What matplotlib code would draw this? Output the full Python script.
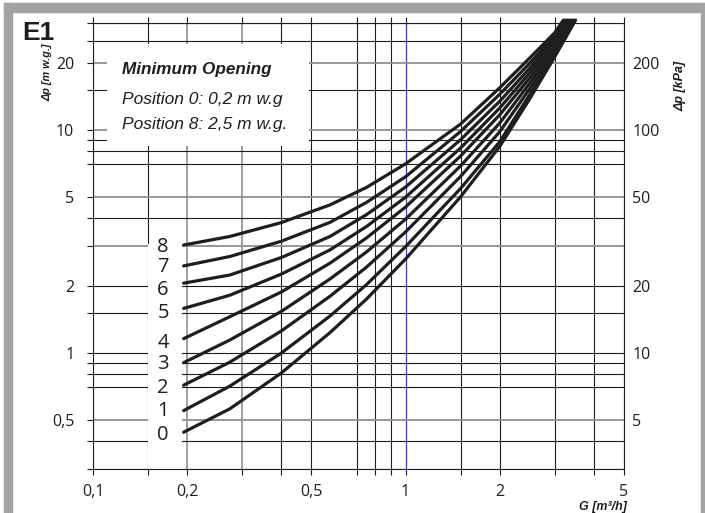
import matplotlib.pyplot as plt
from matplotlib.patches import Rectangle
from matplotlib.ticker import NullLocator

# Werte (G in m3/h, dp in m w.g.)
positions = ['0', '1', '2', '3', '4', '5', '6', '7', '8']
g_read = [0.195, 0.274, 0.4, 0.573, 0.75, 1.0, 1.5, 2.0, 2.5, 3.0]
g_end = [3.50, 3.46, 3.42, 3.38, 3.35, 3.31, 3.27, 3.24, 3.20]
dp_end = 31.0

dp_0 = [0.44, 0.56, 0.81, 1.23, 1.74, 2.63, 5.0, 8.4, 13.8, 21.2]
dp_1 = [0.55, 0.708, 0.995, 1.46, 2.02, 2.99, 5.45, 8.82, 14.4, 21.9]
dp_2 = [0.715, 0.907, 1.25, 1.79, 2.42, 3.48, 6.17, 9.78, 15.3, 22.6]
dp_3 = [0.902, 1.14, 1.53, 2.14, 2.83, 3.97, 6.88, 10.7, 16.2, 23.3]
dp_4 = [1.156, 1.45, 1.87, 2.52, 3.27, 4.50, 7.62, 11.65, 17.1, 24.0]
dp_5 = [1.58, 1.81, 2.25, 2.89, 3.68, 4.98, 8.28, 12.5, 18.0, 24.8]
dp_6 = [2.05, 2.23, 2.67, 3.32, 4.16, 5.53, 9.02, 13.4, 18.9, 25.6]
dp_7 = [2.45, 2.70, 3.16, 3.84, 4.72, 6.15, 9.82, 14.4, 19.9, 26.4]
dp_8 = [3.04, 3.32, 3.83, 4.60, 5.51, 7.03, 10.6, 15.4, 21.0, 27.2]
curves = [dp_0, dp_1, dp_2, dp_3, dp_4, dp_5, dp_6, dp_7, dp_8]
# Lage der Kurvennummern
label_g = 0.1675
label_dp = [0.429, 0.55, 0.698, 0.886, 1.11, 1.50, 1.91, 2.42, 2.98]

grid_x = [0.1, 0.15, 0.2, 0.3, 0.4, 0.5, 0.7, 0.8, 0.9, 1, 1.5, 2, 3, 4, 5]
grid_y = [0.3, 0.4, 0.5, 0.7, 0.8, 0.9, 1, 1.5, 2, 3, 4, 5, 7, 8, 9, 10, 15, 20, 25, 30]
xlabels = {0.1: '0,1', 0.2: '0,2', 0.5: '0,5', 1: '1', 2: '2', 5: '5'}
ylabels = {0.5: '0,5', 1: '1', 2: '2', 5: '5', 10: '10', 20: '20'}
kpa_labels = {0.5: '5', 1: '10', 2: '20', 5: '50', 10: '100', 20: '200'}
gray_x = [0.2, 0.3]
gray_y = [0.5, 3, 5, 10, 20]

plt.rcParams['font.family'] = ['Open Sans', 'DejaVu Sans']
narrow = ['Liberation Sans Narrow', 'Liberation Sans', 'DejaVu Sans']
ink = '#1e1e1e'

fig = plt.figure(figsize=(7.05, 5.13), dpi=100)
ax = fig.add_axes([93 / 705, 1 - 469.3 / 513, 531 / 705, 446 / 513])
ax.set_xscale('log')
ax.set_yscale('log')
ax.set_xlim(0.1, 5)
ax.set_ylim(0.3, 30)

# Gitter
for gx in grid_x:
    if gx == 1:
        ax.axvline(gx, color='#3b3bb5', lw=0.9, zorder=1)
    elif gx in gray_x:
        ax.axvline(gx, color='#8f8f8f', lw=1.2, zorder=1)
    else:
        ax.axvline(gx, color=ink, lw=0.8, zorder=1)
for gy in grid_y:
    if gy in gray_y:
        ax.axhline(gy, color='#8f8f8f', lw=1.3, zorder=1)
    else:
        ax.axhline(gy, color=ink, lw=0.8, zorder=1)

ax.set_xticks(grid_x, labels=[xlabels.get(v, '') for v in grid_x])
ax.set_yticks(grid_y, labels=[ylabels.get(v, '') for v in grid_y])
ax.xaxis.set_minor_locator(NullLocator())
ax.yaxis.set_minor_locator(NullLocator())
ax.tick_params(axis='both', direction='out', length=4.5, width=0.8, color=ink,
               top=True, right=True, labelsize=11.5, labelcolor=ink)
ax.tick_params(axis='x', pad=6)
ax.tick_params(axis='y', pad=9)
for sp in ax.spines.values():
    sp.set_color(ink)
    sp.set_linewidth(0.8)

# rechte Achse in kPa
ax2 = ax.twinx()
ax2.set_yscale('log')
ax2.set_ylim(0.3, 30)
ax2.set_yticks(list(kpa_labels.keys()), labels=list(kpa_labels.values()))
ax2.yaxis.set_minor_locator(NullLocator())
ax2.tick_params(axis='y', length=0, pad=6, labelsize=11.5, labelcolor=ink)
for sp in ax2.spines.values():
    sp.set_visible(False)

# weisse Flaechen (Textkasten, Kurvennummern)
ax.add_patch(Rectangle((0.0264, 0.725), 0.3804, 0.2286, transform=ax.transAxes,
                       facecolor='white', edgecolor='none', zorder=2))
ax.add_patch(Rectangle((0.1045, 0.0), 0.0631, 0.505, transform=ax.transAxes,
                       facecolor='white', edgecolor='none', zorder=2))

# Kurven
for i, dp in enumerate(curves):
    ax.plot(g_read + [g_end[i]], dp + [dp_end], color=ink, lw=2.3,
            solid_capstyle='round', solid_joinstyle='round', zorder=3, clip_on=False)
    ax.text(label_g, label_dp[i], positions[i], ha='center', va='center',
            fontsize=14.5, color=ink, zorder=4)

ax.text(0.055, 0.897, 'Minimum Opening', transform=ax.transAxes, family=narrow,
        fontsize=12.3, fontweight='bold', style='italic', color=ink, va='center', zorder=4)
ax.text(0.055, 0.83, 'Position 0: 0,2 m w.g', transform=ax.transAxes, family=narrow,
        fontsize=12.5, style='italic', color=ink, va='center', zorder=4)
ax.text(0.055, 0.774, 'Position 8: 2,5 m w.g.', transform=ax.transAxes, family=narrow,
        fontsize=12.5, style='italic', color=ink, va='center', zorder=4)

fig.text(47 / 705, 1 - 72 / 513, '\u0394p [m w.g.]', rotation=90, family=narrow,
         fontsize=7.8, fontweight='bold', style='italic', ha='center', va='center', color=ink)
fig.text(680 / 705, 1 - 86 / 513, '\u0394p [kPa]', rotation=90, family=narrow,
         fontsize=9, fontweight='bold', style='italic', ha='center', va='center', color=ink)
fig.text(627 / 705, 1 - 507 / 513, 'G [m\u00b3/h]', family=narrow,
         fontsize=9, fontweight='bold', style='italic', ha='right', va='center', color=ink)
fig.text(22 / 705, 1 - 33 / 513, 'E1', family=['Liberation Sans', 'DejaVu Sans'],
         fontsize=19, fontweight='bold', ha='left', va='center', color=ink)

# grauer Rahmen
frame = '#a3a3a3'
fig.add_artist(Rectangle((4 / 705, 1 - 12 / 513), 701 / 705, 9 / 513,
                         transform=fig.transFigure, color=frame))
fig.add_artist(Rectangle((4 / 705, 0), 8 / 705, 1 - 3 / 513,
                         transform=fig.transFigure, color=frame))
fig.add_artist(Rectangle((701 / 705, 0), 4 / 705, 1 - 3 / 513,
                         transform=fig.transFigure, color=frame))

fig.savefig('out.png', dpi=100)
